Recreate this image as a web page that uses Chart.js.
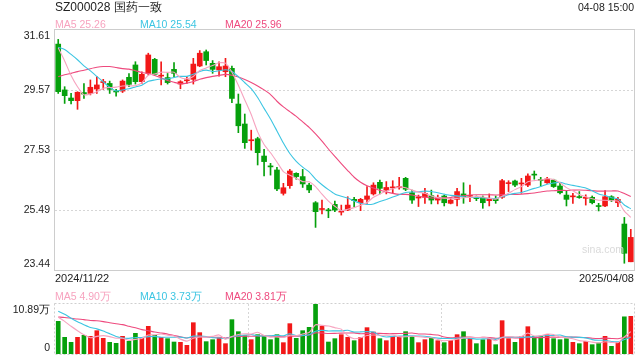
<!DOCTYPE html>
<html><head><meta charset="utf-8">
<script src="https://cdn.jsdelivr.net/npm/chart.js@4.4.1/dist/chart.umd.min.js"></script>
<style>
html,body{margin:0;padding:0;background:#fff;width:640px;height:360px;overflow:hidden;font-family:"Liberation Sans",Arial,sans-serif;}
#wrap{position:relative;width:640px;height:360px;}
.t{position:absolute;white-space:nowrap;line-height:14px;height:14px;}
canvas{position:absolute;left:0;}
</style></head><body>
<div id="wrap">
<canvas id="pc" width="640" height="280" style="top:0"></canvas>
<canvas id="vc" width="640" height="60" style="top:300px"></canvas>
<div class="t" style="left:55px;top:0px;font-size:12px;color:#222">SZ000028 国药一致</div>
<div class="t" style="right:6px;top:0px;font-size:10.5px;color:#222">04-08 15:00</div>
<div class="t" id="pl5" style="left:55px;top:17px;font-size:10.5px"></div>
<div class="t" id="pl10" style="left:140px;top:17px;font-size:10.5px"></div>
<div class="t" id="pl20" style="left:225px;top:17px;font-size:10.5px"></div>
<div class="t" id="d0" style="left:55px;top:271px;font-size:11px;color:#222"></div>
<div class="t" id="d1" style="right:6px;top:271px;font-size:11px;color:#222"></div>
<div class="t" id="vl5" style="left:55px;top:289px;font-size:10.5px"></div>
<div class="t" id="vl10" style="left:140px;top:289px;font-size:10.5px"></div>
<div class="t" id="vl20" style="left:225px;top:289px;font-size:10.5px"></div>
<div class="t" style="left:582px;top:242px;font-size:10.5px;color:#dadada">sina.com</div>
</div>
<script>
// ---- data ----
const opens = [31.13,29.57,29.295,29.205,29.48,29.45,29.60,29.82,29.79,29.52,
29.53,30.00,30.42,29.85,30.135,30.61,30.04,29.99,30.27,29.77,
29.88,29.93,30.385,30.87,30.475,30.25,30.19,30.305,29.09,28.41,
27.84,27.91,27.32,26.965,26.845,26.05,26.31,26.73,26.62,26.33,
25.73,25.50,25.47,25.675,25.41,25.48,25.845,25.73,25.845,26.03,
26.425,26.16,26.235,26.24,26.56,26.07,25.89,25.915,25.97,25.82,
25.96,25.71,25.845,26.03,25.95,25.89,25.915,25.80,25.88,25.915,
26.38,26.47,26.37,26.33,26.69,26.52,26.41,26.50,26.30,25.99,
25.93,25.92,25.88,25.915,25.62,25.62,25.935,25.73,25.005,23.72];
const highs = [31.29,29.68,29.45,29.51,29.79,29.91,30.02,29.93,29.87,29.59,
29.91,30.13,30.53,30.19,30.82,30.645,30.53,30.13,30.50,29.885,
30.02,30.645,30.91,30.93,30.57,30.53,30.645,30.385,29.43,28.75,
28.20,27.96,27.55,27.07,26.935,26.39,26.865,26.75,26.865,26.39,
25.77,25.82,25.54,25.79,25.65,25.935,25.91,25.88,26.28,26.41,
26.50,26.45,26.48,26.595,26.595,26.16,25.99,26.22,26.16,25.99,
25.99,25.91,26.22,26.41,26.33,25.96,25.96,26.03,25.96,26.525,
26.48,26.50,26.56,26.71,26.81,26.595,26.595,26.53,26.41,26.14,
26.05,26.11,26.00,25.96,25.71,26.14,25.97,25.91,25.23,24.825];
const lows = [29.45,29.11,29.09,28.91,29.28,29.40,29.45,29.59,29.45,29.36,
29.48,29.68,29.77,29.79,30.08,30.08,29.74,29.77,30.02,29.61,
29.79,29.77,30.36,30.42,30.135,30.04,30.02,29.14,28.115,27.58,
27.52,27.015,26.64,26.67,26.14,25.99,26.22,26.53,26.25,26.07,
24.89,25.35,25.22,25.425,25.31,25.46,25.595,25.46,25.71,25.99,
26.03,26.03,26.07,26.19,26.14,25.71,25.60,25.71,25.69,25.69,
25.62,25.69,25.62,25.71,25.765,25.80,25.54,25.62,25.71,25.88,
26.11,26.28,26.05,26.28,26.53,26.29,26.39,26.25,26.03,25.62,
25.71,25.88,25.65,25.69,25.45,25.595,25.765,25.595,23.67,23.72];
const closes = [29.51,29.375,29.205,29.49,29.43,29.66,29.74,29.83,29.59,29.50,
29.87,29.76,29.85,30.10,30.76,30.10,30.06,29.82,30.135,29.85,
29.89,30.45,30.82,30.57,30.27,30.36,30.385,29.28,28.35,27.775,
27.87,27.435,27.13,26.95,26.20,26.24,26.81,26.62,26.37,26.165,
25.425,25.52,25.455,25.48,25.43,25.65,25.80,25.845,25.96,26.33,
26.22,26.25,26.255,26.28,26.19,25.82,25.91,26.05,25.82,25.915,
25.73,25.82,26.11,25.935,25.97,25.87,25.73,25.88,25.80,26.48,
26.39,26.33,26.39,26.64,26.67,26.49,26.54,26.28,26.07,25.845,
25.94,25.905,25.90,25.73,25.60,25.935,25.82,25.845,24.01,24.55];
// volume, 万 shares
const volumes = [7.11,3.63,2.54,3.63,4.07,3.85,5.08,3.41,2.54,2.32,
3.85,2.76,4.50,3.48,6.03,4.07,3.63,3.34,2.61,2.54,
1.89,6.82,4.65,2.69,3.12,3.48,2.25,7.48,4.86,3.99,
3.12,4.21,3.92,3.12,4.21,2.47,6.61,3.41,5.08,5.81,
10.89,6.03,2.61,3.34,4.21,3.63,2.90,3.63,5.74,4.79,
3.34,2.90,3.85,3.85,4.86,3.85,2.47,3.12,3.48,2.90,
2.47,2.98,4.21,4.86,3.63,2.25,3.12,3.34,2.03,7.26,
3.34,2.54,3.85,5.95,3.85,3.85,4.21,3.34,3.12,3.34,
2.54,2.25,2.76,2.03,2.40,3.85,1.67,2.54,8.10,8.20];
// closes / volumes of the 19 sessions before the first candle, estimated from where the MA lines start
const priorCloses = [28.1,28.2,28.3,28.5,28.6,28.8,29.3,29.6,30.2,30.6,30.1,30.9,31.3,31.5,31.39,31.6,31.7,31.4,30.8];
const priorVolumes = [5.5,6.0,7.2,6.5,7.8,6.2,7.0,7.5,6.8,7.8,10.0,11.0,11.5,10.5,9.95,8.03,7.94,8.38,8.49];
const priceTicks = [31.61,29.57,27.53,25.49,23.44];
const volumeTicks = [10.89,0];
const volumeTickLabels = ['10.89万','0'];
const dateLabels = ['2024/11/22','2025/04/08'];
const priceLegend = ['MA5 25.26','MA10 25.54','MA20 25.96'];
const volumeLegend = ['MA5 4.90万','MA10 3.73万','MA20 3.81万'];

// ---- styles ----
const RED='#f21818', GREEN='#06a00c';
const MAC=['#f7a3bf','#3cc5e2','#ee4a7e'];
const FONT='"Liberation Sans", Arial, sans-serif';

[['pl5',0],['pl10',1],['pl20',2]].forEach(([id,k])=>{const e=document.getElementById(id);e.textContent=priceLegend[k];e.style.color=MAC[k];});
[['vl5',0],['vl10',1],['vl20',2]].forEach(([id,k])=>{const e=document.getElementById(id);e.textContent=volumeLegend[k];e.style.color=MAC[k];});
document.getElementById('d0').textContent=dateLabels[0];
document.getElementById('d1').textContent=dateLabels[1];

const labels = closes.map((_,i)=>i);
const colors = closes.map((c,i)=> c>=opens[i]?RED:GREEN);
function movingAvg(prior, vals, n){
  const all = prior.concat(vals), off = prior.length;
  return vals.map((_,i)=>{let s=0;for(let k=off+i-n+1;k<=off+i;k++)s+=all[k];return s/n;});
}

function axisPlugin(ticks, tickText, gridVals, dotted, thirds){
  return {
    id:'axisDeco',
    beforeDatasetsDraw(chart){
      const {ctx, chartArea:a, scales:{y}} = chart;
      ctx.save();
      ctx.strokeStyle='#d6d6d6'; ctx.lineWidth=1; ctx.setLineDash([2,2]);
      gridVals.forEach(v=>{const py=Math.round(y.getPixelForValue(v))+0.5;ctx.beginPath();ctx.moveTo(a.left,py);ctx.lineTo(a.right,py);ctx.stroke();});
      if(thirds){[1,2].forEach(k=>{const px=Math.round(a.left+(a.right-a.left)*k/3)+0.5;ctx.beginPath();ctx.moveTo(px,a.top);ctx.lineTo(px,a.bottom);ctx.stroke();});}
      ctx.restore();
    },
    afterDraw(chart){
      const {ctx, chartArea:a, scales:{y}} = chart;
      ctx.save();
      ctx.lineWidth=1;
      if(dotted){ctx.setLineDash([2,2]);ctx.strokeStyle='#cfcfcf';}
      else {ctx.strokeStyle='#cdcdcd';}
      ctx.strokeRect(Math.round(a.left)-0.5, Math.round(a.top)-0.5, Math.round(a.right-a.left)+1, Math.round(a.bottom-a.top)+1);
      ctx.setLineDash([]);
      ctx.fillStyle='#222'; ctx.font='10.5px '+FONT; ctx.textAlign='right'; ctx.textBaseline='middle';
      ticks.forEach((v,k)=>{let py=y.getPixelForValue(v);py=Math.max(a.top+6,Math.min(a.bottom-6,py));ctx.fillText(tickText[k], a.left-5, py);});
      ctx.restore();
    }
  };
}

const lineDs=(data,c)=>({type:'line',data,borderColor:c,borderWidth:1.1,pointRadius:0,tension:0.2,order:0,fill:false});

new Chart(document.getElementById('pc'),{
  type:'bar',
  data:{labels,datasets:[
    lineDs(movingAvg(priorCloses,closes,5),MAC[0]),
    lineDs(movingAvg(priorCloses,closes,10),MAC[1]),
    lineDs(movingAvg(priorCloses,closes,20),MAC[2]),
    {type:'bar',data:lows.map((l,i)=>[l,highs[i]]),backgroundColor:colors,barThickness:1,grouped:false,order:2,minBarLength:1},
    {type:'bar',data:opens.map((o,i)=>[o,closes[i]]),backgroundColor:colors,barThickness:5,grouped:false,order:1,minBarLength:1}
  ]},
  options:{responsive:false,animation:false,events:[],
    layout:{padding:{left:55,right:6,top:30,bottom:10}},
    plugins:{legend:{display:false},tooltip:{enabled:false}},
    scales:{x:{display:false,offset:true},y:{display:false,min:priceTicks[4],max:priceTicks[0]}}},
  plugins:[axisPlugin(priceTicks, priceTicks.map(v=>v.toFixed(2)), priceTicks.slice(1,4), false, false)]
});

new Chart(document.getElementById('vc'),{
  type:'bar',
  data:{labels,datasets:[
    lineDs(movingAvg(priorVolumes,volumes,5),MAC[0]),
    lineDs(movingAvg(priorVolumes,volumes,10),MAC[1]),
    lineDs(movingAvg(priorVolumes,volumes,20),MAC[2]),
    {type:'bar',data:volumes,backgroundColor:colors,barThickness:4,grouped:false,order:1}
  ]},
  options:{responsive:false,animation:false,events:[],
    layout:{padding:{left:55,right:6,top:4,bottom:6}},
    plugins:{legend:{display:false},tooltip:{enabled:false}},
    scales:{x:{display:false,offset:true},y:{display:false,min:0,max:volumeTicks[0]}}},
  plugins:[axisPlugin(volumeTicks, volumeTickLabels, [], true, true)]
});
</script>
</body></html>
